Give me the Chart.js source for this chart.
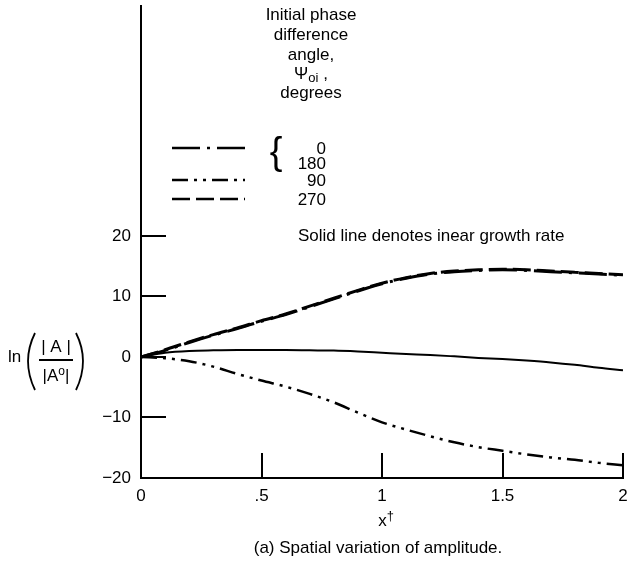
<!DOCTYPE html>
<html>
<head>
<meta charset="utf-8">
<script src="https://cdn.jsdelivr.net/npm/chart.js@4.4.1/dist/chart.umd.min.js"></script>
<style>
    html, body { margin: 0; padding: 0; background: #fff; }
    #wrap { position: relative; width: 635px; height: 571px; }
</style>
</head>
<body>
<div id="wrap"><canvas id="chart"></canvas></div>
<script>
// ===== DATOS =====
const xValues = [0, 0.1, 0.2, 0.3, 0.4, 0.5, 0.6, 0.7, 0.8, 0.9, 1.0,
                 1.1, 1.2, 1.3, 1.4, 1.5, 1.6, 1.7, 1.8, 1.9, 2.0];
const phase270 = [0, 1.2, 2.5, 3.7, 4.8, 6.0, 7.1, 8.4, 9.7, 11.0, 12.2,
                  13.1, 13.8, 14.2, 14.4, 14.5, 14.4, 14.2, 14.0, 13.8, 13.6];
const phase0and180 = [0, 1.1, 2.4, 3.6, 4.7, 5.9, 7.0, 8.3, 9.6, 10.9, 12.1,
                      13.0, 13.7, 14.1, 14.3, 14.4, 14.3, 14.1, 13.9, 13.7, 13.5];
const phase90 = [0, -0.2, -0.7, -1.6, -2.8, -3.9, -4.9, -6.1, -7.5, -9.2, -10.8,
                 -12.0, -13.1, -14.1, -14.9, -15.5, -16.1, -16.6, -17.0, -17.5, -17.9];
const linearGrowth = [0, 0.7, 1.0, 1.1, 1.15, 1.15, 1.15, 1.1, 1.05, 0.9, 0.7,
                      0.5, 0.33, 0.1, -0.15, -0.35, -0.6, -0.9, -1.3, -1.8, -2.2];
const xTicks = [0, 0.5, 1, 1.5, 2];
const xTickLabels = ['0', '.5', '1', '1.5', '2'];
const yTicks = [-20, -10, 0, 10, 20];
const legendAngles = ['0', '180', '90', '270'];

const FONT = "'Liberation Sans', Arial, sans-serif";
const INK = '#000000';

// patrones de trazo
const DASH_270 = [18, 6];
const DASH_0_180 = [28, 7, 3, 7];
const DASH_90 = [16, 6, 3, 6, 3, 6];

Chart.defaults.font.family = FONT;
Chart.defaults.font.size = 17;
Chart.defaults.color = INK;

function toPoints(ys) {
    return xValues.map((x, i) => ({ x: x, y: ys[i] }));
}

// texto compuesto (subíndices / superíndices)
function richWidth(ctx, parts) {
    let w = 0;
    parts.forEach(p => {
        ctx.font = p.size + 'px ' + FONT;
        w += ctx.measureText(p.t).width;
    });
    return w;
}
function drawRich(ctx, parts, x, y, align) {
    let cx = x;
    const w = richWidth(ctx, parts);
    if (align === 'center') cx = x - w / 2;
    ctx.textAlign = 'left';
    parts.forEach(p => {
        ctx.font = p.size + 'px ' + FONT;
        ctx.fillText(p.t, cx, y + (p.dy || 0));
        cx += ctx.measureText(p.t).width;
    });
}

// quitar el relleno que Chart.js deja para las etiquetas extremas
function noEdgePadding(scale) {
    scale.paddingTop = 0;
    scale.paddingBottom = 0;
    scale.paddingLeft = 0;
    scale.paddingRight = 0;
}

// marcas hacia dentro del área
const innerTicks = {
    id: 'innerTicks',
    afterDatasetsDraw(chart) {
        const { ctx, chartArea: { left, bottom } } = chart;
        const xs = chart.scales.x, ys = chart.scales.y;
        ctx.save();
        ctx.strokeStyle = INK;
        ctx.lineWidth = 2;
        ctx.beginPath();
        xTicks.slice(1).forEach(v => {
            const px = Math.round(xs.getPixelForValue(v));
            ctx.moveTo(px, bottom);
            ctx.lineTo(px, bottom - 25);
        });
        yTicks.slice(1).forEach(v => {
            const py = Math.round(ys.getPixelForValue(v));
            ctx.moveTo(left, py);
            ctx.lineTo(left + 25, py);
        });
        ctx.stroke();
        ctx.restore();
    }
};

// textos, leyenda y títulos
const annotations = {
    id: 'annotations',
    afterDraw(chart) {
        const ctx = chart.ctx;
        ctx.save();
        ctx.fillStyle = INK;
        ctx.strokeStyle = INK;
        ctx.textBaseline = 'middle';

        // encabezado de la leyenda
        ctx.font = '17px ' + FONT;
        ctx.textAlign = 'center';
        ctx.fillText('Initial phase', 311, 15);
        ctx.fillText('difference', 311, 35);
        ctx.fillText('angle,', 311, 55);
        drawRich(ctx, [{ t: 'Ψ', size: 17 }, { t: 'oi', size: 13, dy: 4 }, { t: ' ,', size: 17 }], 311, 74, 'center');
        ctx.font = '17px ' + FONT;
        ctx.textAlign = 'center';
        ctx.fillText('degrees', 311, 93);

        // muestras de línea
        const samples = [
            { y: 148, dash: DASH_0_180 },
            { y: 180, dash: DASH_90 },
            { y: 199, dash: DASH_270 }
        ];
        ctx.lineWidth = 2.5;
        samples.forEach(s => {
            ctx.setLineDash(s.dash);
            ctx.beginPath();
            ctx.moveTo(172, s.y);
            ctx.lineTo(245, s.y);
            ctx.stroke();
        });
        ctx.setLineDash([]);

        // llave y ángulos
        ctx.font = '38px ' + FONT;
        ctx.textAlign = 'center';
        ctx.fillText('{', 276, 154);
        ctx.font = '17px ' + FONT;
        ctx.textAlign = 'right';
        const angleY = [149, 164, 181, 200];
        legendAngles.forEach((a, i) => ctx.fillText(a, 326, angleY[i]));

        ctx.textAlign = 'left';
        ctx.fillText('Solid line denotes inear growth rate', 298, 236);

        // título eje x
        drawRich(ctx, [{ t: 'x', size: 17 }, { t: '†', size: 13, dy: -5 }], 386, 521, 'center');

        // pie
        ctx.font = '17px ' + FONT;
        ctx.textAlign = 'center';
        ctx.fillText('(a) Spatial variation of amplitude.', 378, 548);

        // título eje y: ln(|A| / |A°|)
        ctx.textAlign = 'left';
        ctx.fillText('ln', 8, 357);
        ctx.lineWidth = 1.8;
        ctx.beginPath();
        ctx.moveTo(35, 333);
        ctx.quadraticCurveTo(21, 361, 35, 390);
        ctx.moveTo(76, 333);
        ctx.quadraticCurveTo(90, 361, 76, 390);
        ctx.stroke();
        ctx.textAlign = 'center';
        ctx.fillText('| A |', 56, 347);
        ctx.beginPath();
        ctx.moveTo(39, 360);
        ctx.lineTo(73, 360);
        ctx.stroke();
        drawRich(ctx, [{ t: '|A', size: 17 }, { t: 'o', size: 12, dy: -4 }, { t: '|', size: 17 }], 56, 376, 'center');

        ctx.restore();
    }
};

const baseLine = {
    fill: false,
    pointRadius: 0,
    borderColor: INK,
    cubicInterpolationMode: 'monotone'
};

new Chart(document.getElementById('chart'), {
    type: 'line',
    data: {
        datasets: [
            Object.assign({}, baseLine, { label: '270', data: toPoints(phase270), borderWidth: 3, borderDash: DASH_270 }),
            Object.assign({}, baseLine, { label: '0, 180', data: toPoints(phase0and180), borderWidth: 3, borderDash: DASH_0_180 }),
            Object.assign({}, baseLine, { label: '90', data: toPoints(phase90), borderWidth: 2.5, borderDash: DASH_90 }),
            Object.assign({}, baseLine, { label: 'Linear growth rate', data: toPoints(linearGrowth), borderWidth: 2 })
        ]
    },
    options: {
        responsive: true,
        maintainAspectRatio: false,
        animation: false,
        layout: { padding: { top: 6, right: 12, left: 0, bottom: 0 } },
        plugins: {
            legend: { display: false },
            tooltip: { enabled: false }
        },
        scales: {
            x: {
                type: 'linear',
                min: 0,
                max: 2,
                afterBuildTicks: scale => { scale.ticks = xTicks.map(v => ({ value: v })); },
                afterFit: scale => { scale.height = 93; noEdgePadding(scale); },
                grid: { display: false, drawTicks: false },
                border: { display: true, color: INK, width: 2 },
                ticks: {
                    padding: 8,
                    maxRotation: 0,
                    autoSkip: false,
                    color: INK,
                    callback: value => xTickLabels[xTicks.indexOf(value)]
                }
            },
            y: {
                type: 'linear',
                min: -20,
                max: 58,
                afterBuildTicks: scale => { scale.ticks = yTicks.map(v => ({ value: v })); },
                afterFit: scale => { scale.width = 141; noEdgePadding(scale); },
                grid: { display: false, drawTicks: false },
                border: { display: true, color: INK, width: 2 },
                ticks: {
                    padding: 10,
                    autoSkip: false,
                    color: INK,
                    callback: value => String(value).replace('-', '\u2212')
                }
            }
        }
    },
    plugins: [innerTicks, annotations]
});
</script>
</body>
</html>
